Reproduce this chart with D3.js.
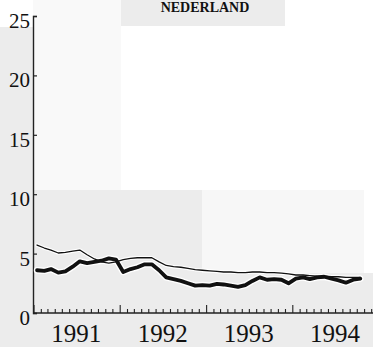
<!DOCTYPE html>
<html lang="en">
  <head>
    <meta charset="UTF-8" />
    <title>Nederland</title>
    <style>
      body {
        margin: 0;
        background: #fff;
      }
      svg text {
        font-family: "Liberation Serif", "DejaVu Serif", serif;
        fill: #111;
      }
    </style>
  </head>
  <body>
    <svg id="svg" width="373" height="347"></svg>
    <script src="https://cdn.jsdelivr.net/npm/d3@7"></script>
    <script>
      // DATA (monthly, Jan 1991 - Oct 1994)
      const TITLE = "NEDERLAND";
      const START_YEAR = 1991;
      const YEARS = ["1991", "1992", "1993", "1994"];
      const Y_TICKS = [0, 5, 10, 15, 20, 25];
      const thinSeries = [
        5.72, 5.47, 5.3, 5.05, 5.1, 5.2, 5.3, 4.9, 4.55, 4.3, 4.2, 4.3,
        4.5, 4.6, 4.65, 4.65, 4.65, 4.3, 4.0, 3.9, 3.85, 3.75, 3.65, 3.6,
        3.55, 3.5, 3.45, 3.45, 3.4, 3.4, 3.45, 3.45, 3.4, 3.4, 3.35, 3.3,
        3.2, 3.2, 3.15, 3.1, 3.1, 3.05, 3.05, 3.0, 3.0, 3.0,
      ];
      const thickSeries = [
        3.6, 3.55, 3.7, 3.4, 3.5, 3.9, 4.35, 4.2, 4.3, 4.4, 4.6, 4.5,
        3.45, 3.7, 3.85, 4.1, 4.1, 3.6, 3.0, 2.85, 2.7, 2.5, 2.3, 2.35,
        2.3, 2.45, 2.4, 2.3, 2.2, 2.35, 2.7, 3.0, 2.8, 2.85, 2.8, 2.5,
        2.9, 3.0, 2.85, 3.0, 3.05, 2.9, 2.75, 2.55, 2.8, 2.9,
      ];

      const svg = d3.select("#svg");

      // scan-like background patches
      const bg = svg.append("g");
      bg.append("rect").attr("x", 121).attr("y", 0).attr("width", 164).attr("height", 26).attr("fill", "#ececec");
      bg.append("rect").attr("x", 0).attr("y", 27).attr("width", 33).attr("height", 163).attr("fill", "#ececec");
      bg.append("rect").attr("x", 33).attr("y", 0).attr("width", 88).attr("height", 190).attr("fill", "#f9f9f9");
      bg.append("rect").attr("x", 0).attr("y", 190).attr("width", 373).attr("height", 157).attr("fill", "#ececec");
      bg.append("rect").attr("x", 202).attr("y", 190).attr("width", 162).attr("height", 83).attr("fill", "#f7f7f7");
      bg.append("rect").attr("x", 364).attr("y", 190).attr("width", 9).attr("height", 83).attr("fill", "#fff");

      // title at the very top
      svg
        .append("text")
        .text(TITLE)
        .attr("x", 205)
        .attr("y", 12)
        .attr("text-anchor", "middle")
        .style("font-size", "14px")
        .style("font-weight", "bold");

      // scales
      const x = d3
        .scaleTime()
        .domain([new Date(START_YEAR, 0, 1), new Date(START_YEAR + 4, 0, 1)])
        .range([33.5, 378.5]);
      const y = d3.scaleLinear().domain([0, 25]).range([313, 16]);

      const monthDate = (i) => new Date(START_YEAR, i, 16);

      // axes
      const yAxis = d3
        .axisLeft(y)
        .tickValues(Y_TICKS)
        .tickSize(-4)
        .tickPadding(3);
      const yG = svg.append("g").attr("transform", "translate(33,0)").call(yAxis);
      yG.select(".domain").attr("stroke", "#222").attr("stroke-width", 1.4);
      yG.selectAll(".tick line").attr("stroke", "#222").attr("stroke-width", 1.2);
      yG.selectAll(".tick text")
        .attr("dy", "0.55em")
        .style("font-size", "21px")
        .style("font-family", "Liberation Serif, serif");

      const xAxis = d3
        .axisBottom(x)
        .ticks(d3.timeMonth.every(1))
        .tickSize(-4)
        .tickFormat("");
      const xG = svg.append("g").attr("transform", "translate(0,313)").call(xAxis);
      xG.select(".domain").attr("d", "M33,0H373").attr("stroke", "#222").attr("stroke-width", 1.4);
      xG.selectAll(".tick line")
        .attr("stroke", "#222")
        .attr("stroke-width", 1.1)
        .attr("y2", (d) => (d.getMonth() === 0 ? -8 : -4));

      svg
        .append("g")
        .selectAll("text")
        .data(YEARS)
        .enter()
        .append("text")
        .text((d) => d)
        .attr("x", (d) => x(new Date(+d, 6, 1)))
        .attr("y", 342)
        .attr("text-anchor", "middle")
        .style("font-size", "25px");

      // lines
      const lineGen = d3
        .line()
        .x((d, i) => x(monthDate(i)))
        .y((d) => y(d))
        .curve(d3.curveLinear);

      const lines = svg.append("g").attr("fill", "none").attr("stroke-linejoin", "round").attr("stroke-linecap", "round");
      lines.append("path").attr("d", lineGen(thinSeries)).attr("stroke", "#fff").attr("stroke-width", 3.5);
      lines.append("path").attr("d", lineGen(thickSeries)).attr("stroke", "#fff").attr("stroke-width", 6.5);
      lines.append("path").attr("d", lineGen(thinSeries)).attr("stroke", "#111").attr("stroke-width", 1.3);
      lines.append("path").attr("d", lineGen(thickSeries)).attr("stroke", "#111").attr("stroke-width", 3.8);
    </script>
  </body>
</html>
